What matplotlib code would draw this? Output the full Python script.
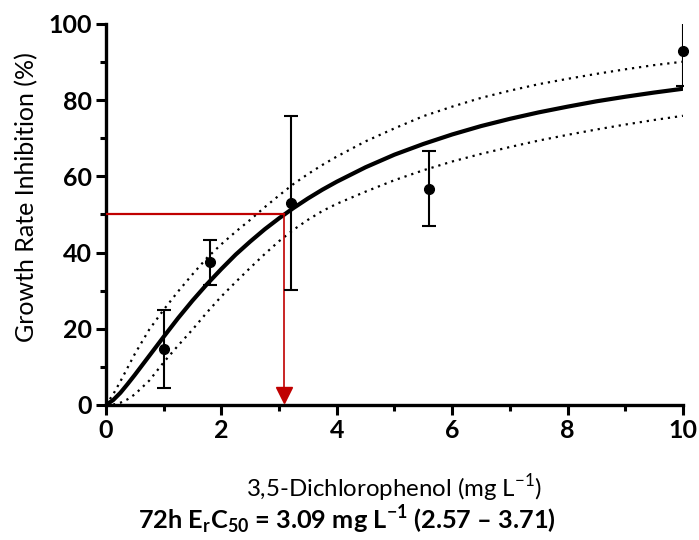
import numpy as np
import matplotlib
matplotlib.use('Agg')
import matplotlib.pyplot as plt
from matplotlib.ticker import MultipleLocator

plt.rcParams['font.family'] = ['Lato', 'DejaVu Sans']
plt.rcParams['mathtext.fontset'] = 'custom'
plt.rcParams['mathtext.rm'] = 'Lato'
plt.rcParams['mathtext.bf'] = 'Lato:bold'

# 测量数据 (浓度, 抑制率, 误差)
conc = [1.0, 1.8, 3.2, 5.6, 10.0]
inhib = [14.7, 37.4, 53.1, 56.8, 93.0]
err = [10.3, 5.8, 22.8, 9.8, 9.3]

# 拟合曲线和置信带
fit_x = [0, 0.125, 0.25, 0.375, 0.5, 0.75, 1, 1.25, 1.5, 1.75, 2, 2.25, 2.5, 2.75, 3, 3.25,
         3.5, 3.75, 4, 4.5, 5, 5.5, 6, 6.5, 7, 7.5, 8, 8.5, 9, 9.5, 10]
fit_y = [0, 1.3, 3.2, 5.5, 7.9, 12.9, 17.9, 22.8, 27.4, 31.7, 35.7, 39.5, 42.9, 46.1, 49.0, 51.7,
         54.2, 56.5, 58.6, 62.4, 65.7, 68.5, 71.0, 73.2, 75.1, 76.8, 78.3, 79.7, 80.9, 82.0, 83.0]
upper_y = [0, 2.8, 6.2, 9.8, 13.4, 19.8, 25.0, 29.8, 34.3, 38.6, 42.2, 45.5, 48.6, 51.9, 55.0, 58.0,
           60.6, 63.0, 65.2, 69.2, 72.6, 75.8, 78.3, 80.6, 82.5, 84.2, 85.6, 86.9, 88.1, 89.2, 90.1]
lower_y = [0, 0.1, 0.6, 1.5, 2.8, 6.4, 11.2, 15.6, 19.8, 24.3, 28.5, 32.3, 36.0, 39.6, 43.0, 46.0,
           48.6, 50.9, 52.8, 56.0, 59.0, 61.6, 63.9, 65.9, 67.7, 69.4, 70.9, 72.3, 73.6, 74.8, 75.9]

ec50 = 3.09
red = '#C00000'

fig = plt.figure(figsize=(6.99, 5.4), dpi=100)
ax = fig.add_axes([0.1516, 0.25, 0.977 - 0.1516, 0.9556 - 0.25])

ax.plot(fit_x, fit_y, color='black', linewidth=3, zorder=3, solid_joinstyle='round')
ax.plot(fit_x, upper_y, color='black', linestyle=(0, (1, 2.2)), linewidth=1.6, zorder=2)
ax.plot(fit_x, lower_y, color='black', linestyle=(0, (1, 2.2)), linewidth=1.6, zorder=2)

# EC50 标记
ax.plot([0, ec50], [50, 50], color=red, linewidth=1.6, zorder=4)
ax.plot([ec50, ec50], [50, 3], color=red, linewidth=1.2, zorder=4)
ax.plot([ec50], [2.5], marker='v', color=red, markersize=12, clip_on=False, zorder=5)

ax.errorbar(conc, inhib, yerr=err, fmt='none', ecolor='black', elinewidth=1.5,
            capsize=5, capthick=1.5, zorder=4)
ax.plot(conc, inhib, 'o', color='black', markersize=7, clip_on=False, zorder=5)

ax.set_xlim(0, 10)
ax.set_ylim(0, 100)
ax.xaxis.set_major_locator(MultipleLocator(2))
ax.xaxis.set_minor_locator(MultipleLocator(1))
ax.yaxis.set_major_locator(MultipleLocator(20))
ax.yaxis.set_minor_locator(MultipleLocator(10))

for s in ['top', 'right']:
    ax.spines[s].set_visible(False)
for s in ['left', 'bottom']:
    ax.spines[s].set_linewidth(2.4)
ax.tick_params(which='major', length=7, width=2.2, direction='out', labelsize=18, pad=3)
ax.tick_params(which='minor', length=4.5, width=2.2, direction='out')
for lab in ax.get_xticklabels() + ax.get_yticklabels():
    lab.set_fontweight('bold')

ax.set_ylabel('Growth Rate Inhibition (%)', fontsize=18)
ax.yaxis.set_label_coords(-0.118, 0.546)
fig.text(0.564, 0.096, r'3,5-Dichlorophenol (mg L$^{\mathregular{-1}}$)', fontsize=17.3, ha='center', va='center')
fig.text(0.497, 0.02, r'72h E$_{\mathbf{r}}$C$_{\mathbf{50}}$ = 3.09 mg L$^{\mathbf{-1}}$ (2.57 – 3.71)',
         fontsize=18.3, fontweight='bold', ha='center', va='baseline')

fig.savefig('out.png', dpi=100)
